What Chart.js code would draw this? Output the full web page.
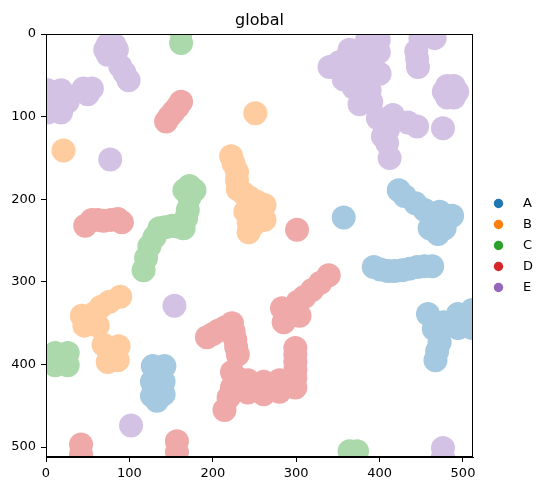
<!DOCTYPE html>
<html><head><meta charset="utf-8">
<script src="https://cdn.jsdelivr.net/npm/chart.js@4.4.1/dist/chart.umd.min.js"></script>
<style>html,body{margin:0;padding:0;background:#fff}#wrap{width:549px;height:491px;position:relative}</style>
</head><body><div id="wrap"><canvas id="c" width="549" height="491"></canvas></div>
<script>
const titleText = 'global';
const categories = ['A', 'B', 'C', 'D', 'E'];
const xTickVals = [0, 100, 200, 300, 400, 500];
const yTickVals = [0, 100, 200, 300, 400, 500];

const ptsA = [
  [357,222],
  [423,189],[430,196],[443,205],[454,213],[472,215],[487,220],[460,235],[478,235],[470,242],[465,222],
  [393,282],[401,285],[410,287],[418,287],[427,286],[436,284],[445,282],[454,281],[463,281],
  [458,339],[477,349],[494,339],[494,356],[511,334],[511,356],[465,357],[472,373],[469,384],[467,395],
  [128,402],[142,402],[127,421],[141,421],[127,438],[141,436],[133,444]
];
const ptsB = [
  [21,141],
  [251,96],
  [222,148],[225,157],[229,167],[229,177],[230,188],[237,193],[244,198],[253,203],[262,207],
  [258,216],[254,225],[248,232],[243,240],[239,215],[243,228],[262,225],
  [43,341],[58,338],[46,353],[62,353],[66,330],[76,324],[89,318],[69,376],[87,378],[80,387],[74,397],[86,395]
];
const ptsC = [
  [162,11],[162,-3],
  [166,189],[178,189],[172,184],[172,198],[170,213],[168,223],[165,235],[158,233],[151,232],
  [143,234],[136,235],[130,246],[124,257],[120,271],[117,286],
  [11,386],[26,386],[11,401],[26,401],
  [364,505],[373,505],[368,515]
];
const ptsD = [
  [144,106],[148,100],[153,94],[158,88],[162,82],
  [47,232],[55,225],[62,225],[69,226],[78,225],[86,224],[91,228],
  [301,237],
  [193,367],[200,363],[207,359],[215,355],[223,350],[225,360],[227,370],[228,379],[230,388],
  [223,409],[232,418],[223,428],[242,419],[242,434],[251,427],
  [261,421],[261,436],[270,427],[280,419],[280,433],[290,424],[299,416],[299,428],[214,455],[219,440],
  [299,406],[299,397],[299,388],[299,380],[293,336],[283,332],[302,324],[304,341],[285,349],
  [310,318],[319,310],[329,301],[339,292],
  [42,497],[42,509],
  [157,493],[157,506]
];
const ptsE = [
  [85,19],[82,25],[74,25],[71,19],[74,13],[82,13],[89,39],[94,47],[99,56],
  [45,66],[55,66],[50,73],
  [10,82],[26,82],[18,95],[2,95],[-6,82],[2,68],[18,68],
  [77,152],[154,329],[102,474],
  [385,7],[399,7],[385,22],[399,22],[364,19],[352,34],[340,40],[375,33],
  [367,48],[386,46],[400,48],[357,55],[369,65],[388,68],[376,85],[390,82],
  [398,102],[416,98],[434,107],[445,112],[410,116],[404,124],[409,132],[412,150],
  [493,70],[489,77],[481,77],[477,70],[481,63],[489,63],[476,114],
  [446,40],[445,30],[444,21],[449,5],[466,5],
  [476,501],[476,512]
];
const seriesPoints = [ptsA, ptsB, ptsC, ptsD, ptsE];

const fullColors = ['#1f77b4', '#ff7f0e', '#2ca02c', '#d62728', '#9467bd'];
function blend(hex, a) {
  const n = parseInt(hex.slice(1), 16);
  const r = (n >> 16) & 255, g = (n >> 8) & 255, b = n & 255;
  const f = v => Math.round(255 - a * (255 - v));
  return `rgb(${f(r)},${f(g)},${f(b)})`;
}
const FONT = "'DejaVu Sans', 'Liberation Sans', sans-serif";

const datasets = categories.map((cat, i) => {
  const c = blend(fullColors[i], 0.4);
  return {
    label: cat,
    data: seriesPoints[i].map(([x, y]) => ({x, y})),
    backgroundColor: c,
    borderColor: c,
    pointBackgroundColor: c,
    pointBorderColor: c,
    pointHoverBackgroundColor: c,
    pointHoverBorderColor: c,
    borderWidth: 0,
    pointBorderWidth: 0,
    pointHoverBorderWidth: 0,
    pointRadius: 12,
    pointHoverRadius: 12,
    pointStyle: 'circle',
    clip: 0
  };
});

const framePlugin = {
  id: 'frame',
  afterDraw(chart) {
    const {ctx, chartArea: a} = chart;
    ctx.save();
    ctx.strokeStyle = '#000';
    ctx.lineWidth = 1;
    ctx.strokeRect(a.left + 0.5, a.top + 0.5, a.right - a.left - 1, a.bottom - a.top - 1);
    ctx.fillStyle = '#000';
    ctx.font = '16px ' + FONT;
    ctx.textAlign = 'center';
    ctx.textBaseline = 'alphabetic';
    ctx.fillText(titleText, (a.left + a.right) / 2, 25);
    ctx.font = '13px ' + FONT;
    ctx.textAlign = 'left';
    ctx.textBaseline = 'middle';
    categories.forEach((cat, i) => {
      const y = 203.5 + i * 21;
      ctx.beginPath();
      ctx.fillStyle = fullColors[i];
      ctx.arc(498.5, y, 4.7, 0, Math.PI * 2);
      ctx.fill();
      ctx.fillStyle = '#000';
      ctx.fillText(cat, 523, y);
    });
    ctx.restore();
  }
};

function axisCfg(vals, reverse, pad) {
  return {
    type: 'linear',
    min: 0,
    max: 512,
    reverse: reverse,
    afterBuildTicks: s => { s.ticks = vals.map(v => ({value: v})); },
    grid: {display: true, drawOnChartArea: false, drawTicks: true, tickLength: 5, color: '#000', lineWidth: 1},
    border: {display: true, color: '#000', width: 1},
    ticks: {color: '#000', font: {family: FONT, size: 13}, padding: pad, maxRotation: 0, autoSkip: false}
  };
}

const xAxis = axisCfg(xTickVals, false, 4);
xAxis.afterFit = s => { s.height = 34; };
const yAxis = axisCfg(yTickVals, true, 5);
yAxis.afterFit = s => { s.width = 46; };

new Chart(document.getElementById('c'), {
  type: 'scatter',
  data: {datasets},
  options: {
    responsive: false,
    devicePixelRatio: 1,
    animation: false,
    elements: {point: {borderWidth: 0}},
    layout: {padding: {left: 0, right: 76, top: 34, bottom: 0}},
    plugins: {legend: {display: false}, tooltip: {enabled: false}, title: {display: false}},
    scales: {x: xAxis, y: yAxis}
  },
  plugins: [framePlugin]
});
</script>
</body></html>
